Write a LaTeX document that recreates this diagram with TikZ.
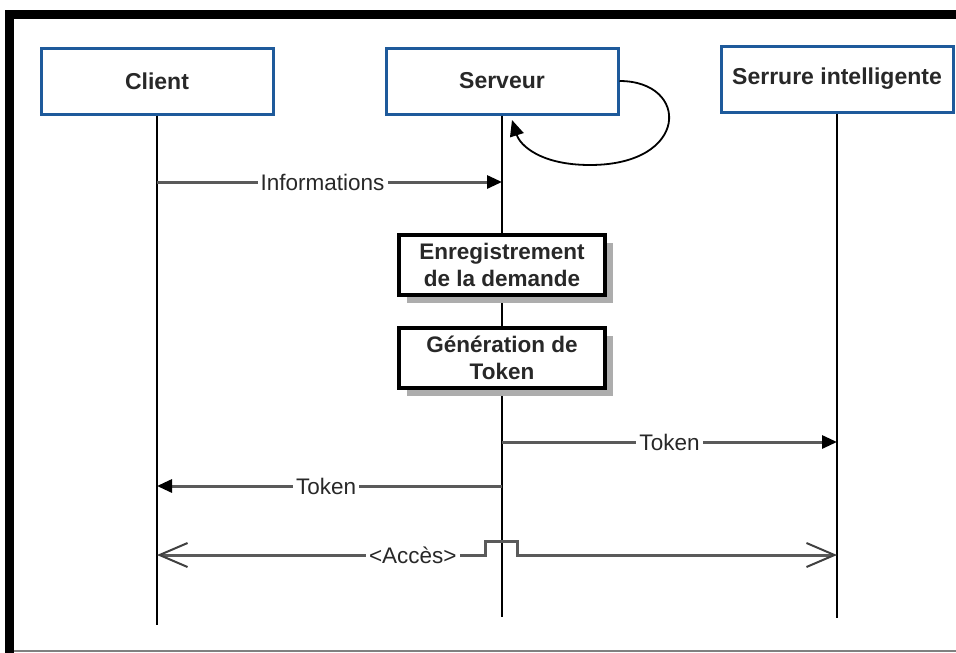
\documentclass[tikz,border=0pt]{standalone}
\usepackage{fontspec}
\setmainfont{Liberation Sans}
\usetikzlibrary{arrows.meta,positioning,calc,shadows}

\definecolor{boxblue}{RGB}{30,90,155}
\definecolor{msggray}{RGB}{90,90,90}
\definecolor{txtgray}{RGB}{40,40,40}

\tikzset{
  actor/.style={draw=boxblue,line width=3pt,fill=white,minimum width=232pt,minimum height=66pt,
    font=\bfseries\fontsize{23}{27}\selectfont,text=txtgray},
  activity/.style={draw=black,line width=3.5pt,fill=white,minimum width=206pt,minimum height=60pt,
    align=center,inner sep=2pt,font=\bfseries\fontsize{22.5}{27}\selectfont,text=txtgray,
    drop shadow={shadow xshift=8pt,shadow yshift=-8pt,fill=black!32,opacity=1}},
  lifeline/.style={line width=1.5pt,black},
  msg/.style={draw=msggray,line width=3pt,-{Triangle[length=15pt,width=13pt,color=black]}},
  acc/.style={draw=msggray,line width=3pt,
    {Straight Barb[length=28pt,width=24pt,line width=2pt,color=black!75]}-{Straight Barb[length=28pt,width=24pt,line width=2pt,color=black!75]}},
  loopmsg/.style={draw=black,line width=1.8pt,-{Triangle[length=16pt,width=14pt]}},
  lbl/.style={fill=white,text=txtgray,font=\fontsize{22.5}{26}\selectfont,inner sep=3pt},
}

\begin{document}
\begin{tikzpicture}[x=1pt,y=-1pt]
\useasboundingbox (0,0) rectangle (956,653);

% frame
\fill[black] (5,10) rectangle (956,19);
\fill[black] (5,10) rectangle (14,653);
\draw[gray,line width=1.5pt] (14,651) -- (956,651);

% actors
\node[actor](cli) at (157,81) {Client};
\node[actor](srv) at (502,81) {Serveur};
\node[actor](ser) at (837,79) {Serrure intelligente};

% lifelines
\coordinate (cliE) at (cli.south |- 0,625);
\coordinate (srvE) at (srv.south |- 0,617);
\coordinate (serE) at (ser.south |- 0,618);
\draw[lifeline] (cli) -- (cliE);
\draw[lifeline] (srv) -- (srvE);
\draw[lifeline] (ser) -- (serE);

% self message
\coordinate (loopE) at (512,120);
\draw[loopmsg] (srv.east) .. controls (690,81) and (690,165) .. (590,165)
  .. controls (540,165) and (520,145) .. (loopE);

% activities
\node[activity](enr) at (502,265) {Enregistrement\\de la demande};
\node[activity](gen) at (502,358) {Génération de\\Token};

% messages
\coordinate (m1a) at (cli.south |- 0,182);
\coordinate (m1b) at (srv.south |- 0,182);
\coordinate (m2a) at (srv.south |- 0,442);
\coordinate (m2b) at (ser.south |- 0,442);
\coordinate (m3a) at (srv.south |- 0,486);
\coordinate (m3b) at (cli.south |- 0,486);
\coordinate (accA) at (cli.south |- 0,555);
\coordinate (accB) at (ser.south |- 0,555);
\path (m1a) edge[msg] node[lbl,pos=.48] {Informations} (m1b);
\path (m2a) edge[msg] node[lbl] {Token} (m2b);
\path (m3a) edge[msg] node[lbl,pos=.51] {Token} (m3b);
\draw[acc] (accA) -- node[lbl,pos=.78] {<Accès>} ++(328,0) -- ++(0,-14) -- ++(32,0) -- ++(0,14) -- (accB);
\end{tikzpicture}
\end{document}
